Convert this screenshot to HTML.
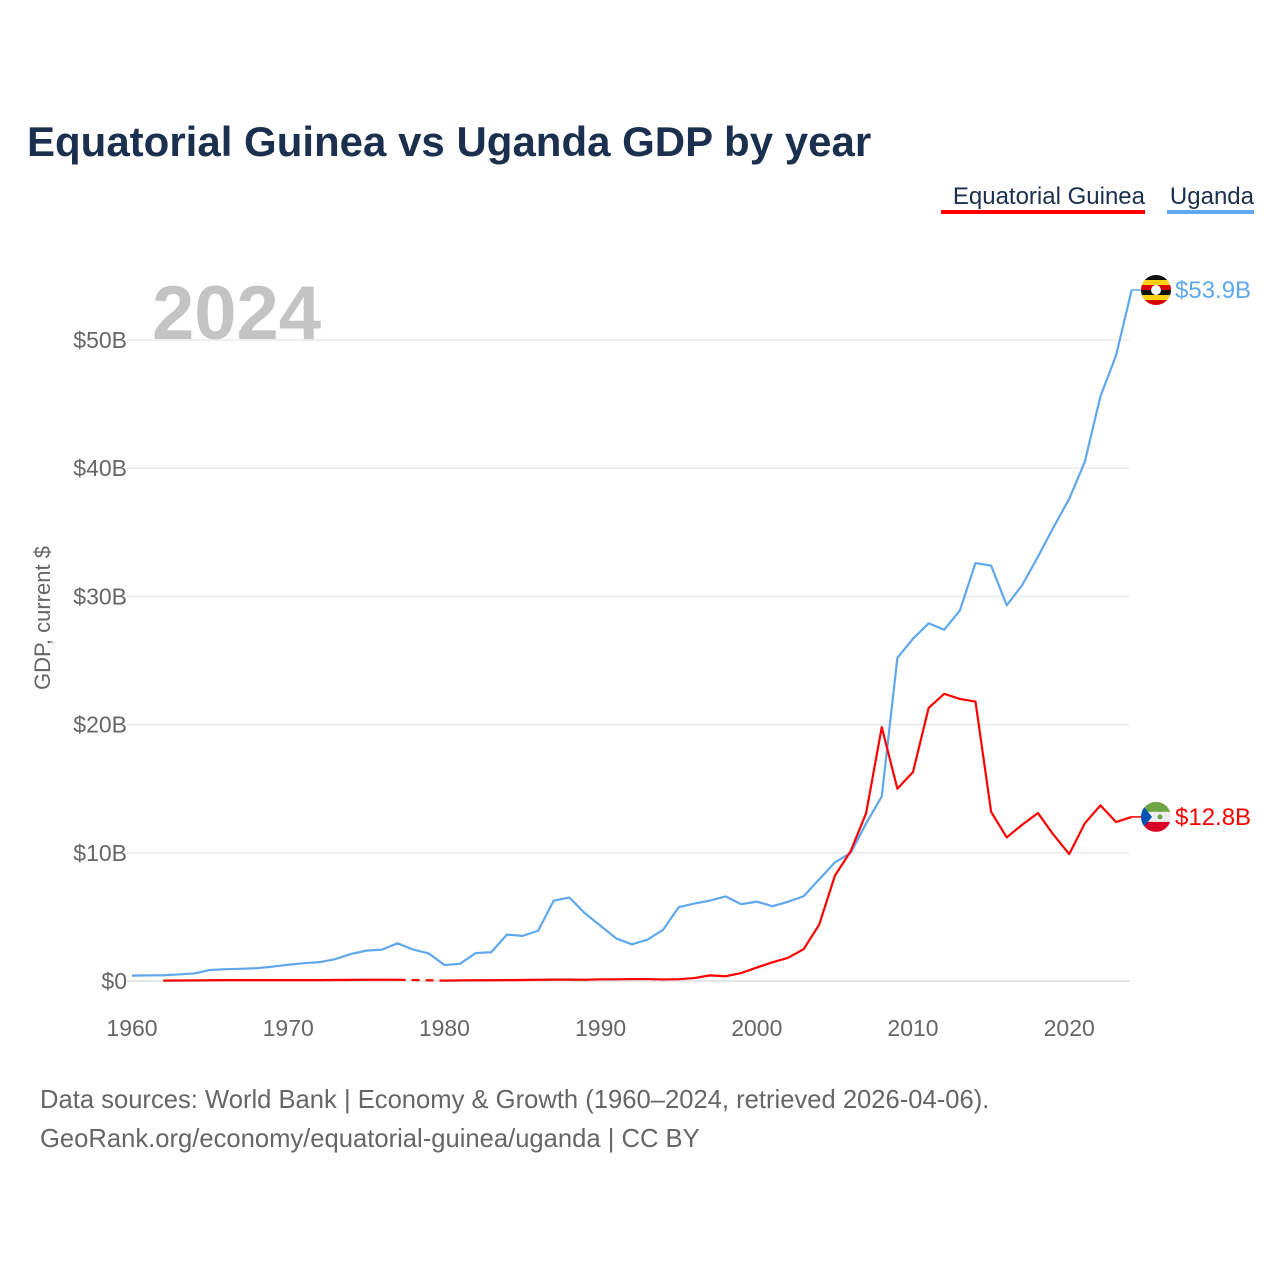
<!DOCTYPE html>
<html><head><meta charset="utf-8"><style>
body{margin:0;background:#fff;font-family:"Liberation Sans",sans-serif;}
svg text{font-family:"Liberation Sans",sans-serif;}
</style></head><body>
<svg width="1280" height="1280" viewBox="0 0 1280 1280">
<text x="27" y="156" font-size="42" font-weight="bold" fill="#1b2f4e">Equatorial Guinea vs Uganda GDP by year</text>
<g>
<text x="1145" y="204" font-size="24" fill="#1b2f4e" text-anchor="end">Equatorial Guinea</text>
<rect x="941" y="210" width="204" height="4" fill="#ff0000"/>
<text x="1254" y="204" font-size="24" fill="#1b2f4e" text-anchor="end">Uganda</text>
<rect x="1167" y="210" width="87" height="4" fill="#5fa8ee"/>
</g>
<text x="152" y="339" font-size="76" font-weight="bold" fill="#c4c4c4">2024</text>
<text transform="translate(50,618) rotate(-90)" font-size="22" fill="#666" text-anchor="middle">GDP, current $</text>
<g id="grid"></g><g id="yt"></g><g id="xt"></g><g id="lines"></g><g id="ends"></g>
<text x="40" y="1108" font-size="25.6" fill="#666">Data sources: World Bank | Economy &amp; Growth (1960–2024, retrieved 2026-04-06).</text>
<text x="40" y="1147" font-size="25.6" fill="#666">GeoRank.org/economy/equatorial-guinea/uganda | CC BY</text>
</svg>
<script>
const years=[];for(let y=1960;y<=2024;y++)years.push(y);
const uganda=[0.42,0.44,0.45,0.51,0.59,0.86,0.92,0.95,1.0,1.12,1.27,1.39,1.47,1.7,2.1,2.37,2.45,2.94,2.45,2.15,1.25,1.34,2.18,2.24,3.62,3.52,3.92,6.27,6.51,5.28,4.3,3.32,2.86,3.22,3.99,5.76,6.04,6.27,6.6,5.99,6.19,5.84,6.18,6.61,7.94,9.25,9.98,12.3,14.4,25.2,26.7,27.9,27.4,28.9,32.6,32.4,29.3,30.9,33.1,35.4,37.6,40.5,45.6,48.8,53.9];
const eqGuinea=[null,null,0.03,0.04,0.05,0.06,0.07,0.07,0.07,0.07,0.07,0.07,0.07,0.08,0.09,0.1,0.1,0.1,null,null,0.03,0.05,0.06,0.06,0.07,0.08,0.1,0.11,0.11,0.1,0.13,0.13,0.15,0.15,0.12,0.14,0.23,0.44,0.37,0.62,1.05,1.46,1.81,2.48,4.41,8.22,10.1,13.1,19.8,15.0,16.3,21.3,22.4,22.0,21.8,13.2,11.2,12.2,13.1,11.4,9.9,12.3,13.7,12.4,12.8];
const yTicks=[0,10,20,30,40,50];
const yTickLabels=["$0","$10B","$20B","$30B","$40B","$50B"];
const xTicks=[1960,1970,1980,1990,2000,2010,2020];
const NS="http://www.w3.org/2000/svg";
const X=y=>132+(y-1960)*15.62, Y=v=>981-v*12.82;
function mk(t,a,p){const e=document.createElementNS(NS,t);for(const k in a)e.setAttribute(k,a[k]);document.getElementById(p).appendChild(e);return e;}
yTicks.forEach((v,i)=>{
 const l=mk('line',{x1:127,x2:1130,y1:Y(v),y2:Y(v),stroke:v==0?'#ddd':'#eaeaea','stroke-width':1.5},'grid');
 
 
 const t=mk('text',{x:127,y:Y(v)+8,'font-size':23,fill:'#666','text-anchor':'end'},'yt');t.textContent=yTickLabels[i];
 
 
});
xTicks.forEach(v=>{const t=mk('text',{x:X(v),y:1036,'font-size':23,fill:'#666','text-anchor':'middle'},'xt');t.textContent=v;
 
 });
function draw(vals,color,name){
 let segs=[],cur=[],last=null,gaps=[];
 vals.forEach((v,i)=>{if(v==null){if(cur.length){segs.push(cur);cur=[];}}else{const p=[X(years[i]),Y(v)];if(!cur.length&&last&&i-last.i>1)gaps.push([last.p,p]);cur.push(p);last={i,p};}});
 if(cur.length)segs.push(cur);
 segs.forEach(s=>{const e=mk('polyline',{points:s.map(p=>p.join(',')).join(' '),fill:'none',stroke:color,'stroke-width':2.2,'stroke-linejoin':'round'},'lines');
  
  });
 gaps.forEach(g=>{const e=mk('line',{x1:g[0][0],y1:g[0][1],x2:g[1][0],y2:g[1][1],stroke:color,'stroke-width':2.2,'stroke-dasharray':'8 6'},'lines');
  
  });
}
draw(uganda,'#5fa8ee','uganda');
draw(eqGuinea,'#ff0000','equatorial-guinea');
function end(v,color,label,name,flag){
 const x=X(2024),y=Y(v);
 mk('polyline',{points:`${x},${y} ${x+7},${y} ${x+12},${y}`,fill:'none',stroke:color,'stroke-width':1.5},'ends');
 const g=mk('g',{},'ends');g.innerHTML=flag;
 
 
 const t=mk('text',{x:1175,y:y+8,'font-size':24,fill:color},'ends');t.textContent=label;
 
 
}
const uy=Y(53.9),ey=Y(12.8);
end(53.9,'#5fa8ee','$53.9B','uganda',`<clipPath id="cu"><circle cx="1156" cy="${uy}" r="15"/></clipPath><g clip-path="url(#cu)"><rect x="1140" y="${uy-15}" width="32" height="5" fill="#111"/><rect x="1140" y="${uy-10}" width="32" height="5" fill="#fcd116"/><rect x="1140" y="${uy-5}" width="32" height="5" fill="#d90000"/><rect x="1140" y="${uy}" width="32" height="5" fill="#111"/><rect x="1140" y="${uy+5}" width="32" height="5" fill="#fcd116"/><rect x="1140" y="${uy+10}" width="32" height="5" fill="#d90000"/><circle cx="1156" cy="${uy}" r="5" fill="#fff"/></g>`);
end(12.8,'#ff0000','$12.8B','equatorial-guinea',`<clipPath id="ce"><circle cx="1156" cy="${ey}" r="15"/></clipPath><g clip-path="url(#ce)"><rect x="1140" y="${ey-15}" width="32" height="10" fill="#6da544"/><rect x="1140" y="${ey-5}" width="32" height="10" fill="#eee"/><rect x="1140" y="${ey+5}" width="32" height="10" fill="#d80027"/><polygon points="1140,${ey-15} 1152,${ey} 1140,${ey+15}" fill="#0052b4"/><circle cx="1160" cy="${ey}" r="2.5" fill="#6da544"/></g>`);
</script>
</body></html>
